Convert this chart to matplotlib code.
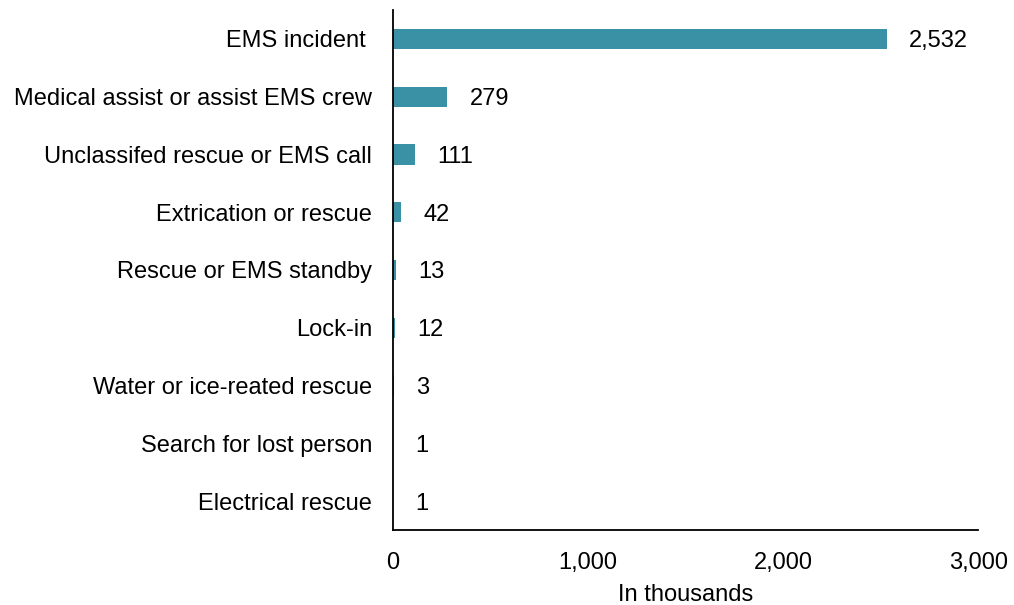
import matplotlib.pyplot as plt

categories = ["EMS incident ", "Medical assist or assist EMS crew", "Unclassifed rescue or EMS call",
              "Extrication or rescue", "Rescue or EMS standby", "Lock-in",
              "Water or ice-reated rescue", "Search for lost person", "Electrical rescue"]
values = [2532, 279, 111, 42, 13, 12, 3, 1, 1]
xticks = [0, 1000, 2000, 3000]

plt.rcParams['font.family'] = ['Liberation Sans', 'DejaVu Sans']
fs = 17

fig = plt.figure(figsize=(10.14, 6.05), dpi=100)
ax = fig.add_axes([0.3876, 0.124, 0.577, 0.8595])

pos = list(range(len(categories)))[::-1]
ax.barh(pos, values, height=0.35, color="#3A91A6")

for p, v in zip(pos, values):
    ax.annotate(f"{v:,}", (v, p), xytext=(16, 0), textcoords="offset points",
                va="center_baseline", ha="left", fontsize=fs)

ax.set_yticks(pos)
ax.set_yticklabels(categories, fontsize=fs)
ax.set_xticks(xticks)
ax.set_xticklabels([f"{t:,}" for t in xticks], fontsize=fs)
ax.set_xlim(0, 3000)
ax.set_ylim(-0.5, 8.5)
ax.tick_params(axis="both", length=0)
ax.tick_params(axis="x", pad=16)
ax.tick_params(axis="y", pad=15)
ax.set_xlabel("In thousands", fontsize=fs, labelpad=7)

for s in ["top", "right"]:
    ax.spines[s].set_visible(False)
for s in ["left", "bottom"]:
    ax.spines[s].set_linewidth(1.3)
    ax.spines[s].set_color("black")

fig.savefig("out.png", dpi=100)
